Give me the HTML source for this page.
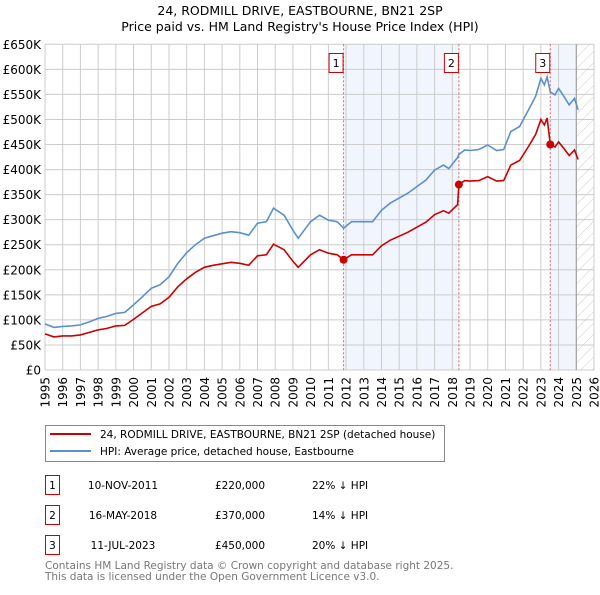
<!DOCTYPE html>
<html><head><meta charset="utf-8"><style>
body{margin:0;background:#fff;}
svg text{font-family:"DejaVu Sans","Liberation Sans",sans-serif;}
</style></head><body>
<svg width="600" height="590" viewBox="0 0 600 590" xmlns="http://www.w3.org/2000/svg">
<defs><pattern id="hatch" width="8" height="8" patternUnits="userSpaceOnUse" patternTransform="rotate(45)"><line x1="0" y1="0" x2="0" y2="8" stroke="#ccc" stroke-width="1"/></pattern></defs>
<text x="300" y="15" text-anchor="middle" font-size="12.5">24, RODMILL DRIVE, EASTBOURNE, BN21 2SP</text>
<text x="300" y="31" text-anchor="middle" font-size="12.5">Price paid vs. HM Land Registry's House Price Index (HPI)</text>
<g id="plot"></g>
<g>
<rect x="45.5" y="425.5" width="399" height="36" fill="#fff" stroke="#888"/>
<line x1="50" y1="434" x2="91" y2="434" stroke="#cc0000" stroke-width="2"/>
<text x="100" y="438" font-size="10.5">24, RODMILL DRIVE, EASTBOURNE, BN21 2SP (detached house)</text>
<line x1="50" y1="451" x2="91" y2="451" stroke="#5b8fd0" stroke-width="2"/>
<text x="100" y="455" font-size="10.5">HPI: Average price, detached house, Eastbourne</text>
</g>
<g id="table" font-size="10.5"></g>
<text x="45" y="569" font-size="10.5" fill="#777">Contains HM Land Registry data © Crown copyright and database right 2025.</text>
<text x="45" y="580" font-size="10.5" fill="#777">This data is licensed under the Open Government Licence v3.0.</text>
</svg>
<script>
const years=[1995,1995.5,1996,1996.5,1997,1997.5,1998,1998.5,1999,1999.5,2000,2000.5,2001,2001.5,2002,2002.5,2003,2003.5,2004,2004.5,2005,2005.5,2006,2006.5,2007,2007.5,2007.9,2008.5,2009,2009.3,2010,2010.5,2011,2011.5,2011.86,2012.3,2013,2013.5,2014,2014.5,2015,2015.5,2016,2016.5,2017,2017.5,2017.8,2018.3,2018.37,2018.7,2019,2019.5,2020,2020.5,2020.9,2021.3,2021.8,2022.3,2022.7,2023,2023.2,2023.35,2023.53,2023.8,2024,2024.3,2024.6,2024.9,2025.1];
const hpi=[92,85,87,88,90,96,103,107,113,115,130,146,163,170,186,213,234,250,263,268,273,276,274,269,293,296,323,309,279,263,296,309,299,296,283,296,296,296,319,333,343,353,366,379,399,409,402,424,430,439,438,440,449,438,440,476,486,519,546,582,569,585,555,549,562,546,529,542,519];
const paid=[72,66,68,68,70,75,80,83,88,89,101,114,127,132,145,166,182,195,205,209,212,215,213,209,228,230,251,240,217,205,230,240,233,230,220,230,230,230,248,259,267,275,285,295,310,318,313,330,370,378,377,378,386,377,378,409,418,446,470,500,489,503,450,445,455,442,428,439,420];
const saleYears=[2011.86,2018.37,2023.53];
const salePrices=[220,370,450];
const saleDates=["10-NOV-2011","16-MAY-2018","11-JUL-2023"];
const saleLabels=["£220,000","£370,000","£450,000"];
const salePct=["22% ↓ HPI","14% ↓ HPI","20% ↓ HPI"];
const yTicks=[0,50,100,150,200,250,300,350,400,450,500,550,600,650];
const NS="http://www.w3.org/2000/svg";
const X0=45,X1=594,Y0=370,Y1=44.3;
const x=y=>X0+(y-1995)/(2026-1995)*(X1-X0);
const yv=v=>Y0-v/650*(Y0-Y1);
const g=document.getElementById('plot');
function mk(t,a,p){const e=document.createElementNS(NS,t);for(const k in a)e.setAttribute(k,a[k]);(p||g).appendChild(e);return e;}
let e;
e=mk('rect',{x:x(saleYears[0]),y:Y1,width:x(saleYears[1])-x(saleYears[0]),height:Y0-Y1,fill:'#eef3fc',opacity:0.8});


e=mk('rect',{x:x(saleYears[2]),y:Y1,width:x(2025)-x(saleYears[2]),height:Y0-Y1,fill:'#eef3fc',opacity:0.8});


e=mk('rect',{x:x(2025),y:Y1,width:X1-x(2025),height:Y0-Y1,fill:'url(#hatch)'});


for(let yr=1995;yr<=2026;yr++){
 e=mk('line',{x1:x(yr),x2:x(yr),y1:Y1,y2:Y0,stroke:'#ccc','stroke-width':1});
 
 
 e=mk('text',{transform:`translate(${x(yr)+4.5},${Y0+7}) rotate(-90)`,'text-anchor':'end','font-size':12});
 e.textContent=yr;
 
 
}
yTicks.forEach(v=>{
 e=mk('line',{x1:X0,x2:X1,y1:yv(v),y2:yv(v),stroke:'#ccc','stroke-width':1});
 
 
 e=mk('text',{x:X0-4,y:yv(v)+4.5,'text-anchor':'end','font-size':12});
 e.textContent=v===0?'£0':'£'+v+'K';
 
 
});
e=mk('line',{x1:x(2025),x2:x(2025),y1:Y1,y2:Y0,stroke:'#999','stroke-width':1});


saleYears.forEach((s,i)=>{
 e=mk('line',{x1:x(s),x2:x(s),y1:Y1,y2:Y0,stroke:'#e06060','stroke-width':1,'stroke-dasharray':'2,2'});
 
 
});
const pts=a=>a.map((v,i)=>x(years[i]).toFixed(1)+','+yv(v).toFixed(1)).join(' ');
e=mk('polyline',{points:pts(hpi),fill:'none',stroke:'#5b8fd0','stroke-width':1.6});


e=mk('polyline',{points:pts(paid),fill:'none',stroke:'#cc0000','stroke-width':1.6});


saleYears.forEach((s,i)=>{
 e=mk('circle',{cx:x(s),cy:yv(salePrices[i]),r:4,fill:'#cc0000'});
 
 
 const bx=x(s)-9;
 e=mk('rect',{x:bx-5.5,y:53.5,width:14,height:19,fill:'#fff',stroke:'#cc0000'});
 
 
 e=mk('text',{x:bx+1.5,y:67,'text-anchor':'middle','font-size':11});
 e.textContent=i+1;
 
 
});
const tb=document.getElementById('table');
saleYears.forEach((s,i)=>{
 const ty=476+i*30;
 e=mk('rect',{x:45.5,y:ty-0.5,width:14,height:19,fill:'#fff',stroke:'#cc0000'},tb);
 
 
 e=mk('text',{x:52.5,y:ty+13,'text-anchor':'middle'},tb);e.textContent=i+1;
 
 
 e=mk('text',{x:123,y:ty+13,'text-anchor':'middle'},tb);e.textContent=saleDates[i];
 
 
 e=mk('text',{x:240,y:ty+13,'text-anchor':'middle'},tb);e.textContent=saleLabels[i];
 
 
 e=mk('text',{x:312,y:ty+13},tb);e.textContent=salePct[i];
 
 
});
</script>
</body></html>
